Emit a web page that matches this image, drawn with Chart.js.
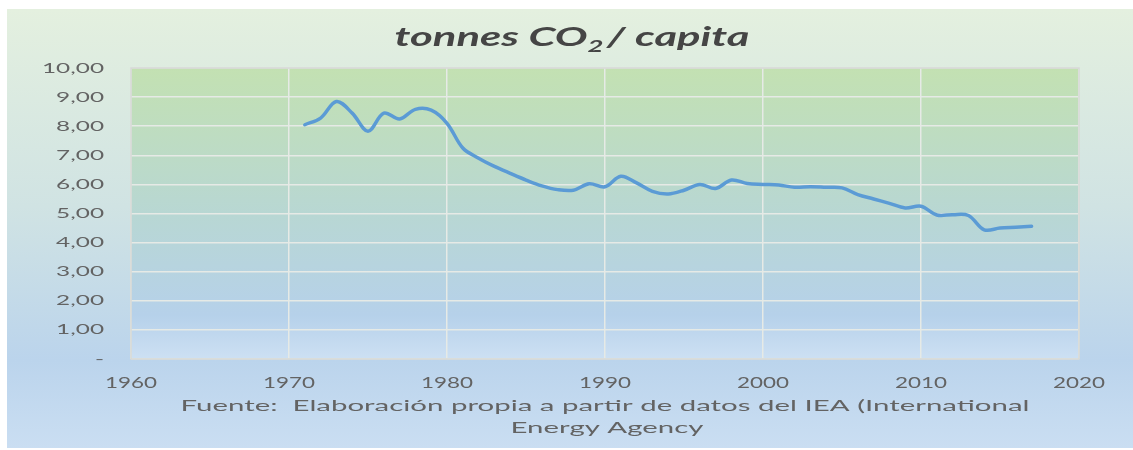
<!DOCTYPE html>
<html><head><meta charset="utf-8">
<script src="https://cdn.jsdelivr.net/npm/chart.js@4/dist/chart.umd.min.js"></script>
<style>html,body{margin:0;padding:0;background:#fff}#wrap{width:1133px;height:450px;position:relative}</style>
</head><body><div id="wrap"><canvas id="c" width="1133" height="450"></canvas></div>
<script>
const years = [1971,1972,1973,1974,1975,1976,1977,1978,1979,1980,1981,1982,1983,1984,1985,1986,1987,1988,1989,1990,1991,1992,1993,1994,1995,1996,1997,1998,1999,2000,2001,2002,2003,2004,2005,2006,2007,2008,2009,2010,2011,2012,2013,2014,2015,2016,2017];
const co2PerCapita = [8.05,8.28,8.85,8.45,7.83,8.45,8.25,8.58,8.55,8.10,7.25,6.90,6.62,6.38,6.15,5.95,5.82,5.80,6.02,5.92,6.28,6.05,5.76,5.67,5.80,6.00,5.86,6.15,6.03,6.00,5.98,5.90,5.92,5.90,5.88,5.65,5.50,5.35,5.19,5.25,4.95,4.96,4.93,4.44,4.50,4.53,4.56];
const yTickValues = [0,1,2,3,4,5,6,7,8,9,10];
const xTickYears = [1960,1970,1980,1990,2000,2010,2020];
const titleParts = ['tonnes CO', '2', '/ capita'];
const footerLines = ['Fuente:  Elaboración propia a partir de datos del IEA (International', 'Energy Agency'];

function fmtY(v){ return v === 0 ? '-' : v.toFixed(2).replace('.', ','); }

function stretched(ctx, text, x, y, font, sx, align, color){
  ctx.save();
  ctx.font = font; ctx.fillStyle = color; ctx.textAlign = align; ctx.textBaseline = 'middle';
  ctx.translate(x, y); ctx.scale(sx, 1); ctx.fillText(text, 0, 0);
  ctx.restore();
}
function sxFor(ctx, ref, font, target){ ctx.save(); ctx.font = font; const w = ctx.measureText(ref).width; ctx.restore(); return target / w; }

const decor = {
  id: 'decor',
  beforeDraw(chart){
    const ctx = chart.ctx, a = chart.chartArea;
    ctx.save();
    ctx.fillStyle = '#ffffff'; ctx.fillRect(0,0,chart.width,chart.height);
    let g = ctx.createLinearGradient(0,9,0,448);
    g.addColorStop(0,'#e4f0df'); g.addColorStop(0.45,'#d0e3e3'); g.addColorStop(0.8,'#bbd4ec'); g.addColorStop(1,'#cadef2');
    ctx.fillStyle = g; ctx.fillRect(7,9,chart.width-7,439);
    g = ctx.createLinearGradient(0,a.top,0,a.bottom);
    g.addColorStop(0,'#c3e1b2'); g.addColorStop(0.5,'#b8d7d3'); g.addColorStop(0.85,'#b6d1ea'); g.addColorStop(1,'#cde0f3');
    ctx.fillStyle = g; ctx.fillRect(a.left,a.top,a.right-a.left,a.bottom-a.top);
    ctx.restore();
  },
  beforeDatasetsDraw(chart){
    const ctx = chart.ctx, a = chart.chartArea;
    ctx.save(); ctx.strokeStyle = '#d6d9d6'; ctx.lineWidth = 1.5;
    ctx.strokeRect(a.left, a.top, a.right-a.left, a.bottom-a.top);
    ctx.restore();
  },
  afterDraw(chart){
    const ctx = chart.ctx, xs = chart.scales.x, ys = chart.scales.y;
    const txt = '#636363';
    const yFont = '14px Lato';
    const ysx = sxFor(ctx, '10,00', yFont, 62);
    yTickValues.forEach(v => stretched(ctx, fmtY(v), 104, ys.getPixelForValue(v), yFont, ysx, 'right', txt));
    const xFont = '15px Lato';
    const xsx = sxFor(ctx, '2020', xFont, 52);
    xTickYears.forEach(t => stretched(ctx, String(t), xs.getPixelForValue(t), 383, xFont, xsx, 'center', txt));
    const fFont = '16px Lato';
    const fsx = sxFor(ctx, footerLines[0], fFont, 849);
    const cx = (chart.chartArea.left + chart.chartArea.right) / 2;
    stretched(ctx, footerLines[0], cx, 406, fFont, fsx, 'center', txt);
    stretched(ctx, footerLines[1], cx + 2, 428, fFont, fsx, 'center', txt);
    const tFont = 'italic bold 27px Lato', sFont = 'italic bold 17px Lato';
    ctx.save();
    ctx.font = tFont; const w0 = ctx.measureText(titleParts[0]).width; const w2 = ctx.measureText(titleParts[2]).width;
    ctx.font = sFont; const w1 = ctx.measureText(titleParts[1]).width;
    ctx.restore();
    const total = w0 + w1 + 2 + w2;
    const tsx = 355 / total;
    const left = 572 - total * tsx / 2;
    ctx.save();
    ctx.fillStyle = '#454545'; ctx.textAlign = 'left'; ctx.textBaseline = 'alphabetic';
    ctx.translate(left, 46); ctx.scale(tsx, 1);
    ctx.font = tFont; ctx.fillText(titleParts[0], 0, 0);
    ctx.font = sFont; ctx.fillText(titleParts[1], w0, 6);
    ctx.font = tFont; ctx.fillText(titleParts[2], w0 + w1 + 2, 0);
    ctx.restore();
  }
};

new Chart(document.getElementById('c'), {
  type: 'line',
  data: { datasets: [{
    data: years.map((y, i) => ({ x: y, y: co2PerCapita[i] })),
    borderColor: '#5b9bd5', borderWidth: 3.5, pointRadius: 0, tension: 0.35, fill: false,
    borderCapStyle: 'round', borderJoinStyle: 'round'
  }]},
  options: {
    responsive: false, animation: false, devicePixelRatio: 1,
    layout: { padding: { left: 0, right: 54, top: 68, bottom: 0 } },
    plugins: { legend: { display: false }, tooltip: { enabled: false }, title: { display: false } },
    scales: {
      x: { type: 'linear', min: 1960, max: 2020,
        ticks: { stepSize: 10, display: false },
        grid: { color: '#e6eae6', lineWidth: 1.5, drawTicks: false },
        border: { display: false },
        afterBuildTicks(s){ s.ticks = xTickYears.map(v => ({ value: v })); },
        afterFit(s){ s.height = 91; } },
      y: { min: 0, max: 10,
        ticks: { stepSize: 1, display: false },
        grid: { color: '#e6eae6', lineWidth: 1.5, drawTicks: false },
        border: { display: false },
        afterBuildTicks(s){ s.ticks = yTickValues.map(v => ({ value: v })); },
        afterFit(s){ s.width = 131; } }
    }
  },
  plugins: [decor]
});
</script></body></html>
